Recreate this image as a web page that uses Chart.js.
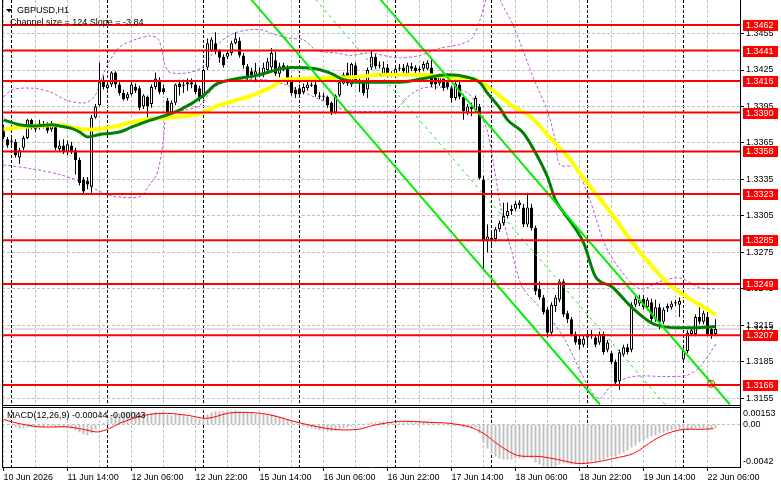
<!DOCTYPE html>
<html>
<head>
<meta charset="utf-8">
<title>GBPUSD,H1</title>
<script src="https://cdn.jsdelivr.net/npm/chart.js@4.4.1/dist/chart.umd.min.js"></script>
<style>
  html, body { margin: 0; padding: 0; background: #fff; }
  #wrap { position: relative; width: 781px; height: 489px; }
</style>
</head>
<body>
<div id="wrap"><canvas id="chart" width="781" height="489"></canvas></div>
<script>
/* GBPUSD H1 — MT4 style: candles, 2 MAs, Bollinger, regression channel, MACD
   bar index 0 = 10 Jun 22:00, one bar per hour */

const FONT = "Liberation Sans, Arial, sans-serif";

// [open, high, low, close]
const candles = [
  [1.3377,1.3380,1.3368,1.3370],[1.3368,1.3370,1.3361,1.3363],[1.3366,1.3369,1.3362,1.3367],[1.3366,1.3368,1.3353,1.3355],
  [1.3353,1.3361,1.3348,1.3359],[1.3361,1.3371,1.3359,1.3369],[1.3369,1.3385,1.3368,1.3384],[1.3384,1.3385,1.3376,1.3378],
  [1.3379,1.3381,1.3374,1.3376],[1.3378,1.3384,1.3376,1.3381],[1.3379,1.3383,1.3377,1.3380],[1.3379,1.3382,1.3373,1.3375],
  [1.3376,1.3383,1.3374,1.3381],[1.3378,1.3380,1.3359,1.3361],[1.3360,1.3367,1.3358,1.3363],[1.3363,1.3368,1.3356,1.3358],
  [1.3358,1.3367,1.3355,1.3364],[1.3363,1.3366,1.3356,1.3358],[1.3359,1.3361,1.3339,1.3351],[1.3351,1.3353,1.3330,1.3332],
  [1.3335,1.3337,1.3322,1.3325],[1.3334,1.3337,1.3327,1.3331],[1.3329,1.3388,1.3324,1.3386],[1.3386,1.3397,1.3385,1.3395],
  [1.3396,1.3431,1.3395,1.3415],[1.3417,1.3420,1.3409,1.3411],[1.3410,1.3416,1.3409,1.3413],[1.3413,1.3424,1.3411,1.3423],
  [1.3423,1.3424,1.3410,1.3413],[1.3413,1.3415,1.3404,1.3406],[1.3406,1.3409,1.3400,1.3401],[1.3402,1.3407,1.3400,1.3405],
  [1.3405,1.3415,1.3404,1.3413],[1.3411,1.3414,1.3406,1.3408],[1.3410,1.3412,1.3392,1.3394],[1.3395,1.3405,1.3393,1.3404],
  [1.3403,1.3404,1.3382,1.3395],[1.3397,1.3413,1.3394,1.3411],[1.3411,1.3423,1.3409,1.3418],[1.3417,1.3419,1.3405,1.3407],
  [1.3410,1.3413,1.3405,1.3407],[1.3400,1.3402,1.3389,1.3390],[1.3390,1.3400,1.3388,1.3398],[1.3398,1.3414,1.3396,1.3413],
  [1.3414,1.3417,1.3404,1.3411],[1.3412,1.3417,1.3406,1.3413],[1.3415,1.3418,1.3408,1.3413],[1.3413,1.3418,1.3410,1.3415],
  [1.3413,1.3415,1.3405,1.3407],[1.3410,1.3412,1.3399,1.3402],[1.3403,1.3426,1.3401,1.3425],[1.3427,1.3451,1.3425,1.3447],
  [1.3441,1.3452,1.3440,1.3450],[1.3447,1.3456,1.3438,1.3440],[1.3441,1.3442,1.3431,1.3435],[1.3436,1.3438,1.3427,1.3429],
  [1.3436,1.3441,1.3434,1.3439],[1.3439,1.3449,1.3437,1.3447],[1.3447,1.3456,1.3446,1.3451],[1.3449,1.3452,1.3435,1.3437],
  [1.3437,1.3439,1.3426,1.3429],[1.3428,1.3430,1.3417,1.3419],[1.3424,1.3427,1.3418,1.3420],[1.3421,1.3431,1.3415,1.3424],
  [1.3423,1.3427,1.3419,1.3422],[1.3421,1.3431,1.3419,1.3427],[1.3425,1.3435,1.3423,1.3432],[1.3427,1.3443,1.3425,1.3439],
  [1.3433,1.3440,1.3420,1.3422],[1.3422,1.3431,1.3419,1.3428],[1.3429,1.3431,1.3424,1.3426],[1.3427,1.3429,1.3413,1.3415],
  [1.3418,1.3420,1.3404,1.3406],[1.3409,1.3411,1.3402,1.3405],[1.3410,1.3413,1.3402,1.3405],[1.3407,1.3414,1.3405,1.3411],
  [1.3410,1.3417,1.3408,1.3413],[1.3412,1.3415,1.3411,1.3413],[1.3413,1.3417,1.3403,1.3405],[1.3404,1.3407,1.3401,1.3403],
  [1.3403,1.3406,1.3400,1.3404],[1.3403,1.3404,1.3394,1.3396],[1.3398,1.3399,1.3388,1.3390],[1.3390,1.3405,1.3389,1.3404],
  [1.3404,1.3416,1.3403,1.3415],[1.3414,1.3423,1.3413,1.3421],[1.3423,1.3431,1.3412,1.3414],[1.3413,1.3431,1.3411,1.3430],
  [1.3429,1.3431,1.3414,1.3416],[1.3417,1.3419,1.3407,1.3414],[1.3415,1.3417,1.3404,1.3406],[1.3409,1.3427,1.3402,1.3425],
  [1.3427,1.3441,1.3425,1.3436],[1.3436,1.3438,1.3426,1.3428],[1.3429,1.3432,1.3426,1.3428],[1.3422,1.3432,1.3420,1.3427],
  [1.3427,1.3430,1.3419,1.3421],[1.3422,1.3424,1.3419,1.3421],[1.3422,1.3428,1.3420,1.3426],[1.3426,1.3430,1.3424,1.3427],
  [1.3427,1.3430,1.3422,1.3424],[1.3422,1.3431,1.3420,1.3429],[1.3428,1.3431,1.3424,1.3426],[1.3427,1.3429,1.3421,1.3424],
  [1.3425,1.3428,1.3423,1.3426],[1.3426,1.3432,1.3424,1.3430],[1.3426,1.3433,1.3425,1.3431],[1.3427,1.3434,1.3411,1.3413],
  [1.3419,1.3421,1.3409,1.3413],[1.3414,1.3422,1.3412,1.3419],[1.3418,1.3421,1.3408,1.3410],[1.3415,1.3417,1.3409,1.3411],
  [1.3410,1.3412,1.3398,1.3402],[1.3402,1.3417,1.3400,1.3414],[1.3413,1.3417,1.3401,1.3403],[1.3403,1.3405,1.3384,1.3391],
  [1.3390,1.3397,1.3388,1.3395],[1.3395,1.3398,1.3387,1.3393],[1.3392,1.3404,1.3390,1.3402],[1.3395,1.3397,1.3335,1.3336],
  [1.3335,1.3338,1.3261,1.3284],[1.3285,1.3298,1.3275,1.3288],[1.3287,1.3292,1.3281,1.3285],[1.3286,1.3296,1.3284,1.3294],
  [1.3294,1.3301,1.3292,1.3299],[1.3299,1.3316,1.3297,1.3305],[1.3305,1.3316,1.3303,1.3309],[1.3311,1.3314,1.3306,1.3309],
  [1.3311,1.3317,1.3309,1.3315],[1.3314,1.3318,1.3311,1.3316],[1.3312,1.3315,1.3296,1.3298],[1.3298,1.3324,1.3296,1.3312],
  [1.3312,1.3315,1.3293,1.3295],[1.3295,1.3297,1.3240,1.3243],[1.3245,1.3251,1.3236,1.3238],[1.3238,1.3240,1.3224,1.3226],
  [1.3228,1.3230,1.3205,1.3209],[1.3209,1.3234,1.3207,1.3232],[1.3231,1.3240,1.3226,1.3238],[1.3236,1.3253,1.3234,1.3251],
  [1.3251,1.3253,1.3222,1.3224],[1.3225,1.3227,1.3217,1.3220],[1.3220,1.3222,1.3206,1.3208],[1.3208,1.3210,1.3199,1.3201],
  [1.3204,1.3207,1.3195,1.3199],[1.3199,1.3207,1.3197,1.3204],[1.3205,1.3210,1.3197,1.3208],[1.3206,1.3211,1.3204,1.3208],
  [1.3205,1.3207,1.3197,1.3199],[1.3201,1.3210,1.3199,1.3208],[1.3208,1.3210,1.3191,1.3193],[1.3195,1.3203,1.3193,1.3201],
  [1.3192,1.3194,1.3183,1.3185],[1.3185,1.3187,1.3167,1.3168],[1.3169,1.3195,1.3162,1.3193],[1.3191,1.3199,1.3189,1.3197],
  [1.3197,1.3200,1.3191,1.3193],[1.3195,1.3234,1.3193,1.3232],[1.3232,1.3239,1.3230,1.3237],[1.3233,1.3240,1.3231,1.3236],
  [1.3237,1.3240,1.3228,1.3230],[1.3230,1.3238,1.3228,1.3236],[1.3234,1.3237,1.3218,1.3220],[1.3220,1.3236,1.3218,1.3230],
  [1.3230,1.3233,1.3212,1.3218],[1.3218,1.3230,1.3216,1.3228],[1.3229,1.3233,1.3226,1.3231],[1.3230,1.3235,1.3228,1.3233],
  [1.3234,1.3236,1.3231,1.3233],[1.3232,1.3238,1.3222,1.3235],[1.3187,1.3196,1.3185,1.3194],[1.3194,1.3211,1.3192,1.3209],
  [1.3208,1.3213,1.3206,1.3211],[1.3208,1.3224,1.3206,1.3222],[1.3222,1.3230,1.3216,1.3218],[1.3218,1.3227,1.3216,1.3225],
  [1.3222,1.3226,1.3206,1.3208],[1.3212,1.3214,1.3204,1.3207],[1.3208,1.3220,1.3206,1.3212]
];

const levels     = [1.3462, 1.3441, 1.3416, 1.3390, 1.3358, 1.3323, 1.3285, 1.3249, 1.3207, 1.3166];
const priceTicks = [1.3455, 1.3425, 1.3395, 1.3365, 1.3335, 1.3305, 1.3275, 1.3245, 1.3215, 1.3185, 1.3155];
const bidPrice   = 1.3212;

const dateLabels    = ["10 Jun 2026", "11 Jun 14:00", "12 Jun 06:00", "12 Jun 22:00", "15 Jun 14:00", "16 Jun 06:00",
                       "16 Jun 22:00", "17 Jun 14:00", "18 Jun 06:00", "18 Jun 22:00", "19 Jun 14:00", "22 Jun 06:00"];
const dateLabelBars = [0, 16, 32, 48, 64, 80, 96, 112, 128, 144, 160, 176];
const gridBars      = [0, 8, 16, 24, 32, 40, 48, 56, 64, 72, 80, 88, 96, 104, 112, 120, 128, 136, 144, 152, 160, 168, 176];
const daySepBars    = [2, 26, 50, 74, 98, 122, 146, 170];

// [bar, price]
const maGreen = [[0,1.3384],[4,1.3380],[8,1.3379],[12,1.3380],[14,1.3379],[17,1.3377],[19,1.3374],[21,1.3370],[24,1.3372],
  [27,1.3373],[29,1.3374],[32,1.3378],[36,1.3383],[39,1.3386],[44,1.3392],[50,1.3404],[53,1.3413],[57,1.3417],[64,1.3421],
  [67,1.3424],[72,1.3427],[78,1.3426],[82,1.3422],[85,1.3417],[89,1.3415],[99,1.3415],[105,1.3418],[111,1.3421],[116,1.3419],
  [119,1.3415],[121,1.3406],[124,1.3394],[126,1.3384],[130,1.3373],[133,1.3357],[136,1.3337],[138,1.3318],[140,1.3308],
  [145,1.3283],[148,1.3255],[152,1.3247],[157,1.3230],[162,1.3217],[165,1.3214],[170,1.3213],[173,1.3213],[178,1.3214]];
const maYellow = [[0,1.3376],[4,1.3378],[9,1.3379],[14,1.3380],[17,1.3378],[21,1.3376],[27,1.3378],[32,1.3382],[37,1.3385],
  [42,1.3386],[50,1.3390],[53,1.3395],[57,1.3399],[62,1.3404],[67,1.3411],[70,1.3417],[78,1.3418],[87,1.3419],[95,1.3421],
  [103,1.3421],[112,1.3419],[118,1.3417],[122,1.3409],[127,1.3396],[132,1.3386],[137,1.3368],[141,1.3354],[145,1.3336],
  [152,1.3307],[157,1.3284],[162,1.3264],[167,1.3247],[172,1.3236],[175,1.3230],[178,1.3224]];
const bandUpper = [[0,1.3403],[2.4,1.3409],[7.4,1.3410],[11.6,1.3407],[15.9,1.3400],[20.4,1.3398],[22.9,1.3404],[24.9,1.3421],
  [26.6,1.3433],[29.1,1.3444],[32.9,1.3450],[36.6,1.3453],[38.6,1.3451],[39.6,1.3441],[40.4,1.3429],[41.6,1.3423],[46.6,1.3423],
  [50.4,1.3429],[53.6,1.3446],[57.4,1.3455],[61.6,1.3458],[64.6,1.3458],[67.1,1.3455],[71.6,1.3451],[74.9,1.3450],[78.4,1.3441],
  [83.4,1.3439],[86.6,1.3437],[91.6,1.3439],[98.4,1.3435],[104.1,1.3437],[109.1,1.3443],[114.1,1.3446],[117.1,1.3451],
  [119.1,1.3466],[120.6,1.3483],[121.6,1.3495],[123.4,1.3495],[124.1,1.3483],[127.4,1.3462],[132.4,1.3419],[135.9,1.3392],
  [137.9,1.3368],[139.1,1.3347],[142.9,1.3345],[146.6,1.3318],[150.4,1.3281],[154.1,1.3261],[159.1,1.3245],[164.1,1.3251],
  [169.1,1.3254],[174.1,1.3246],[177.9,1.3245]];
const bandLower = [[0,1.3347],[6.6,1.3344],[14.1,1.3339],[20.9,1.3331],[24.1,1.3325],[27.9,1.3321],[34.1,1.3321],[36.6,1.3331],
  [38.4,1.3340],[39.9,1.3365],[40.6,1.3386],[42.1,1.3391],[45.4,1.3392],[49.1,1.3396],[52.4,1.3410],[55.4,1.3415],[60.4,1.3417],
  [65.4,1.3417],[70.4,1.3413],[75.4,1.3406],[80.4,1.3399],[85.4,1.3392],[88.6,1.3391],[92.9,1.3391],[97.9,1.3392],[101.1,1.3403],
  [104.6,1.3410],[108.6,1.3411],[112.9,1.3410],[116.1,1.3406],[118.6,1.3395],[121.1,1.3373],[122.9,1.3340],[124.6,1.3307],
  [127.1,1.3275],[129.6,1.3247],[132.9,1.3234],[136.6,1.3221],[140.4,1.3203],[144.1,1.3178],[147.1,1.3160],[149.1,1.3155],
  [152.1,1.3166],[157.4,1.3173],[165.4,1.3173],[170.9,1.3174],[174.1,1.3181],[178.4,1.3201]];

// regression channel, slope -3.84 pips per bar
const chanUpper = [[94.2, 1.3483], [181.6, 1.3150]];
const chanMid   = [[78.0, 1.3483], [165.4, 1.3150]];
const chanLower = [[61.9, 1.3483], [149.1, 1.3150]];
const marker    = [[176.9, 1.3167]];

const macdHist = [
  0.0000,-0.0001,-0.0002,-0.0003,-0.0004,-0.0004,-0.0003,-0.0003,-0.0003,-0.0003,-0.0003,-0.0002,-0.0002,-0.0003,-0.0003,-0.0003,
  -0.0003,-0.0004,-0.0006,-0.0008,-0.0010,-0.0011,-0.0009,-0.0005,-0.0001,0.0002,0.0005,0.0008,0.0010,0.0011,0.0011,0.0011,
  0.0012,0.0012,0.0011,0.0011,0.0010,0.0011,0.0012,0.0012,0.0011,0.0010,0.0009,0.0010,0.0010,0.0009,0.0008,0.0007,
  0.0006,0.0005,0.0007,0.0010,0.0012,0.0013,0.0013,0.0013,0.0013,0.0013,0.0014,0.0013,0.0012,0.0011,0.0011,0.0010,
  0.0010,0.0010,0.0010,0.0010,0.0009,0.0008,0.0007,0.0005,0.0003,0.0001,-0.0001,-0.0002,-0.0003,-0.0004,-0.0005,-0.0006,
  -0.0006,-0.0007,-0.0007,-0.0006,-0.0005,-0.0004,-0.0003,-0.0002,-0.0001,-0.0001,0.0000,0.0001,0.0002,0.0002,0.0003,0.0003,
  0.0003,0.0002,0.0002,0.0002,0.0002,0.0003,0.0002,0.0002,0.0002,0.0003,0.0003,0.0002,0.0001,0.0001,0.0000,-0.0001,
  -0.0002,-0.0002,-0.0002,-0.0003,-0.0003,-0.0004,-0.0003,-0.0009,-0.0018,-0.0024,-0.0029,-0.0032,-0.0034,-0.0035,-0.0035,-0.0035,
  -0.0034,-0.0034,-0.0034,-0.0033,-0.0034,-0.0038,-0.0040,-0.0042,-0.0043,-0.0043,-0.0042,-0.0040,-0.0039,-0.0039,-0.0040,-0.0040,
  -0.0040,-0.0039,-0.0038,-0.0037,-0.0037,-0.0036,-0.0035,-0.0033,-0.0032,-0.0032,-0.0030,-0.0028,-0.0026,-0.0023,-0.0021,-0.0018,
  -0.0016,-0.0014,-0.0012,-0.0011,-0.0009,-0.0008,-0.0007,-0.0006,-0.0005,-0.0005,-0.0006,-0.0006,-0.0005,-0.0004,-0.0004,-0.0004,
  -0.0005,-0.0004,-0.0004
];
const macdSignal = [[0,0.0005],[2.5,0.0002],[9,-0.00025],[16,-0.00025],[20,-0.0005],[23.5,-0.00076],[26.5,-0.0004],[29,0.0001],
  [32.5,0.0006],[36.5,0.0010],[41,0.0011],[46,0.0009],[51,0.0006],[56,0.0011],[60,0.0012],[66,0.0010],[74,0.00015],[82.5,-0.0005],
  [88.5,-0.0005],[92.5,-0.0001],[99,0.0003],[106.5,0.0002],[111.5,0.0001],[116.5,-0.00025],[120,-0.0009],[124,-0.0021],
  [128.5,-0.0031],[134,-0.0032],[138.5,-0.0035],[143.5,-0.0039],[147.5,-0.0038],[152.5,-0.0034],[157.5,-0.0029],[162.5,-0.0016],
  [166,-0.0009],[170,-0.0005],[174,-0.0005],[177.5,-0.00043]];
const macdTicks  = [0.00153, 0, -0.0042];
const macdLabels = ["0.00153", "0.00", "-0.0042"];

/* ── helpers ── */
const pts    = arr => arr.map(([x, y]) => ({ x, y }));
const isBull = i => candles[i][3] >= candles[i][0];
const xTickBars = [...gridBars, ...daySepBars].sort((a, b) => a - b);

// MT4 panes have no label padding: the plot area runs to the edges
const noPad = s => { s.paddingTop = 0; s.paddingBottom = 0; s.paddingLeft = 0; s.paddingRight = 0; };

const lineDs = (data, color, width, order, extra = {}) => ({
  type: "line", data: pts(data), borderColor: color, borderWidth: width,
  pointRadius: 0, pointHoverRadius: 0, fill: false, yAxisID: "y", order, ...extra,
});

/* ── datasets ── */
const datasets = [];

datasets.push(lineDs([[-1, bidPrice], [190, bidPrice]], "#c0c0c0", 1, 20));

levels.forEach(v => datasets.push(lineDs([[-1, v], [190, v]], "#ff0000", 2, 2)));

datasets.push(lineDs(chanUpper, "#00f000", 2, 3));
datasets.push(lineDs(chanLower, "#00f000", 2, 3));
datasets.push(lineDs(chanMid,   "#00f000", 1, 3, { borderDash: [3, 4] }));

datasets.push(lineDs(maYellow, "#ffff00", 4, 8, { tension: 0.4, cubicInterpolationMode: "monotone" }));
datasets.push(lineDs(maGreen,  "#008000", 3, 7, { tension: 0.4, cubicInterpolationMode: "monotone" }));

datasets.push(lineDs(bandUpper, "#b45ad2", 1, 15, { borderDash: [3, 2], tension: 0.3 }));
datasets.push(lineDs(bandLower, "#b45ad2", 1, 15, { borderDash: [3, 2], tension: 0.3 }));

datasets.push({
  type: "bar", yAxisID: "y", order: 12,
  data: candles.map(([o, h, l, c], i) => ({ x: i, y: [l, h] })),
  backgroundColor: "#000", borderWidth: 0,
  barThickness: 1, grouped: false, inflateAmount: 0,
});
datasets.push({
  type: "bar", yAxisID: "y", order: 11,
  data: candles.map(([o, h, l, c], i) => ({ x: i, y: [o, c] })),
  backgroundColor: ctx => (isBull(ctx.dataIndex) ? "#ffffff" : "#000000"),
  borderColor: "#000", borderWidth: 1, borderSkipped: false,
  barThickness: 3, grouped: false, inflateAmount: 0, minBarLength: 1,
});

datasets.push({
  type: "line", yAxisID: "y", order: 1, data: pts(marker), showLine: false,
  pointRadius: 3.5, pointHoverRadius: 0, pointBorderWidth: 1,
  pointBorderColor: "#ff0000", pointBackgroundColor: "rgba(0,0,0,0)",
});

datasets.push({
  type: "bar", yAxisID: "y2", order: 11,
  data: macdHist.map((v, i) => ({ x: i, y: v })),
  backgroundColor: "#c0c0c0", borderWidth: 0,
  barThickness: 2, grouped: false, inflateAmount: 0,
});
datasets.push({
  type: "line", yAxisID: "y2", order: 6, data: pts(macdSignal),
  borderColor: "#ff0000", borderWidth: 1, pointRadius: 0, pointHoverRadius: 0, tension: 0.3,
});

/* ── overlay: pane frames, price boxes, titles ── */
const overlay = {
  id: "overlay",
  afterDraw(chart) {
    const { ctx, chartArea: a, scales: { y, y2 } } = chart;
    ctx.save();

    // gap between the panes
    ctx.fillStyle = "#fff";
    ctx.fillRect(a.left, y.bottom, a.right - a.left, 3);
    ctx.strokeStyle = "#000";
    ctx.lineWidth = 1;
    ctx.beginPath();
    ctx.moveTo(a.left + 0.5, a.top);         ctx.lineTo(a.left + 0.5, a.bottom);
    ctx.moveTo(a.left, y.bottom + 0.5);      ctx.lineTo(a.right, y.bottom + 0.5);
    ctx.moveTo(a.left, y.bottom + 2.5);      ctx.lineTo(a.right, y.bottom + 2.5);
    ctx.stroke();

    ctx.font = `9px ${FONT}`;
    ctx.textAlign = "left";
    ctx.textBaseline = "middle";

    // bid price label sits behind the level boxes
    ctx.fillStyle = "#000";
    ctx.fillText(bidPrice.toFixed(4), a.right + 6, y.getPixelForValue(bidPrice));

    levels.forEach(v => {
      const py = Math.round(y.getPixelForValue(v));
      ctx.fillStyle = "#ff0000";
      ctx.fillRect(a.right + 3, py - 5, 35, 11);
      ctx.fillStyle = "#fff";
      ctx.fillText(v.toFixed(4), a.right + 6, py + 0.5);
    });

    // MACD scale labels, MT4 keeps the extremes inside the pane
    ctx.fillStyle = "#000";
    macdTicks.forEach((v, k) => {
      ctx.textBaseline = k === 0 ? "top" : k === macdTicks.length - 1 ? "bottom" : "middle";
      ctx.fillText(macdLabels[k], a.right + 3, y2.getPixelForValue(v));
    });

    // titles
    ctx.textBaseline = "middle";
    ctx.beginPath();
    ctx.moveTo(6, 9); ctx.lineTo(12, 9); ctx.lineTo(9, 12.5); ctx.closePath();
    ctx.fill();
    ctx.fillText("GBPUSD,H1", 17, 10.5);
    ctx.fillText("Channel size = 124 Slope = -3.84", 10, 23);
    ctx.fillText("MACD(12,26,9) -0.00044 -0.00043", 7, 416);

    ctx.restore();
  },
};

/* ── chart ── */
new Chart(document.getElementById("chart"), {
  data: { datasets },
  plugins: [overlay],
  options: {
    responsive: false,
    devicePixelRatio: 1,
    animation: false,
    events: [],
    layout: { autoPadding: false, padding: { left: 2, right: 0, top: 0, bottom: 0 } },
    plugins: { legend: { display: false }, tooltip: { enabled: false } },
    scales: {
      x: {
        type: "linear", position: "bottom", min: -0.375, max: 184.125, offset: false,
        afterBuildTicks: s => { s.ticks = xTickBars.map(v => ({ value: v })); },
        afterFit: s => { s.height = 22; noPad(s); },
        ticks: {
          autoSkip: false, maxRotation: 0, minRotation: 0, align: "start", padding: 1,
          color: "#000", font: { family: FONT, size: 9 },
          callback: v => { const k = dateLabelBars.indexOf(v); return k < 0 ? "" : dateLabels[k]; },
        },
        grid: {
          offset: false, lineWidth: 1, tickLength: 4, tickBorderDash: [],
          color: c => (c.tick && daySepBars.includes(c.tick.value) ? "#000" : "#c0c0c0"),
          tickColor: c => (c.tick && dateLabelBars.includes(c.tick.value) ? "#000" : "rgba(0,0,0,0)"),
        },
        border: { display: true, color: "#000", width: 1, dash: [3, 2] },
      },
      y: {
        type: "linear", position: "right", stack: "panes", stackWeight: 405,
        min: 1.314955, max: 1.348256,
        afterBuildTicks: s => { s.ticks = priceTicks.map(v => ({ value: v })); },
        afterFit: s => { s.width = 41; noPad(s); },
        ticks: { autoSkip: false, padding: 2, color: "#000", font: { family: FONT, size: 9 }, callback: v => v.toFixed(4) },
        grid: { color: "#c0c0c0", tickLength: 4, tickColor: "#000", tickBorderDash: [] },
        border: { display: true, color: "#000", width: 1, dash: [3, 2] },
      },
      y2: {
        type: "linear", position: "right", stack: "panes", stackWeight: 62,
        min: -0.00425, max: 0.00193,
        afterBuildTicks: s => { s.ticks = macdTicks.map(v => ({ value: v })); },
        afterFit: s => { s.width = 41; noPad(s); },
        ticks: { display: false },
        grid: { drawTicks: false, color: c => (c.tick && c.tick.value === 0 ? "#c0c0c0" : "rgba(0,0,0,0)") },
        border: { display: true, color: "#000", width: 1, dash: [3, 2] },
      },
    },
  },
});
</script>
</body>
</html>
